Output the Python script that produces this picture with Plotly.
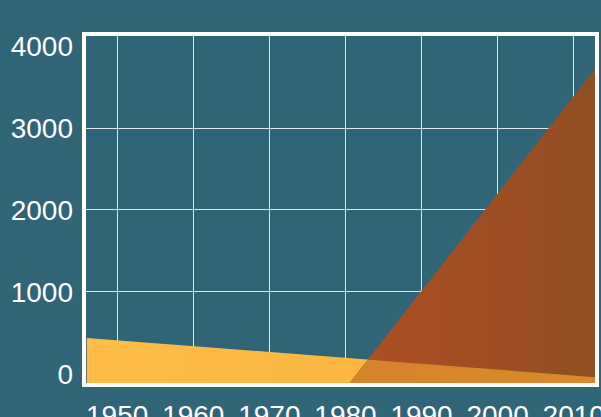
import numpy as np
import plotly.graph_objects as go

# --- data ---
yellow_years = [1946, 2013]
yellow_values = [440, -40]
brown_years = [1980, 2013]
brown_values = [-175, 3745]
x_tick_vals = [1950, 1960, 1970, 1980, 1990, 2000, 2010]
x_tick_text = ["1950", "1960", "1970", "1980", "1990", "2000", "2010"]
y_tick_vals = [0, 1000, 2000, 3000, 4000]
y_tick_text = ["0", "1000", "2000", "3000", "4000"]
y_grid_vals = [1000, 2000, 3000]

X_RANGE = [1945.9, 2012.8]
Y_RANGE = [-110, 4122]
BASE = Y_RANGE[0]

BG = "#2f6577"
FONT = "Liberation Sans, Arial, sans-serif"

# overlap region: min of the two series where both exist
ox = np.linspace(brown_years[0], brown_years[-1], 600)
oy = np.minimum(np.interp(ox, yellow_years, yellow_values),
                np.interp(ox, brown_years, brown_values))

fig = go.Figure()


def add_area(xs, ys, c_left, c_right):
    xs = list(xs)
    fig.add_trace(go.Scatter(x=xs, y=[BASE] * len(xs), mode="lines",
                             line=dict(width=0), hoverinfo="skip",
                             showlegend=False))
    fig.add_trace(go.Scatter(x=xs, y=list(ys), mode="lines",
                             line=dict(width=0), fill="tonexty",
                             fillcolor=c_left,
                             fillgradient=dict(type="horizontal",
                                               colorscale=[[0, c_left], [1, c_right]]),
                             hoverinfo="skip", showlegend=False))


add_area(yellow_years, yellow_values, "#fdbd47", "#fab238")
add_area(brown_years, brown_values, "#b04e24", "#914e22")
add_area(ox, oy, "#d5832b", "#da8a2c")

grid_color = "rgba(255,255,255,0.85)"

fig.update_layout(
    width=601, height=417,
    margin=dict(l=86, r=6, t=36, b=34),
    paper_bgcolor=BG, plot_bgcolor=BG,
    font=dict(family=FONT, color="white", size=28),
    showlegend=False,
    xaxis=dict(range=X_RANGE, tickvals=x_tick_vals, ticktext=x_tick_text,
               showgrid=True, gridcolor=grid_color, gridwidth=1.2,
               zeroline=False, showline=True, linecolor="white", linewidth=4,
               mirror=True, layer="above traces", automargin=False,
               ticks="", ticklabelstandoff=4, ticklabeloverflow="allow"),
    yaxis=dict(range=Y_RANGE, tickvals=y_grid_vals, showticklabels=False,
               showgrid=True, gridcolor=grid_color, gridwidth=1.2,
               zeroline=False, showline=True, linecolor="white", linewidth=4,
               mirror=True, layer="above traces", automargin=False, ticks=""),
    yaxis2=dict(range=Y_RANGE, overlaying="y", side="left",
                tickvals=y_tick_vals, ticktext=y_tick_text,
                showgrid=False, zeroline=False, showline=False,
                automargin=False, ticks="", ticklabelstandoff=12,
                ticklabeloverflow="allow"),
)

# dummy trace to activate the label axis
fig.add_trace(go.Scatter(x=[X_RANGE[0]], y=[BASE], yaxis="y2", mode="markers",
                         marker=dict(opacity=0), hoverinfo="skip",
                         showlegend=False))

fig.write_html(
    "out.html",
    config={"displayModeBar": False},
    post_script="document.body.style.margin='0';"
                "document.body.style.background='" + BG + "';",
)
